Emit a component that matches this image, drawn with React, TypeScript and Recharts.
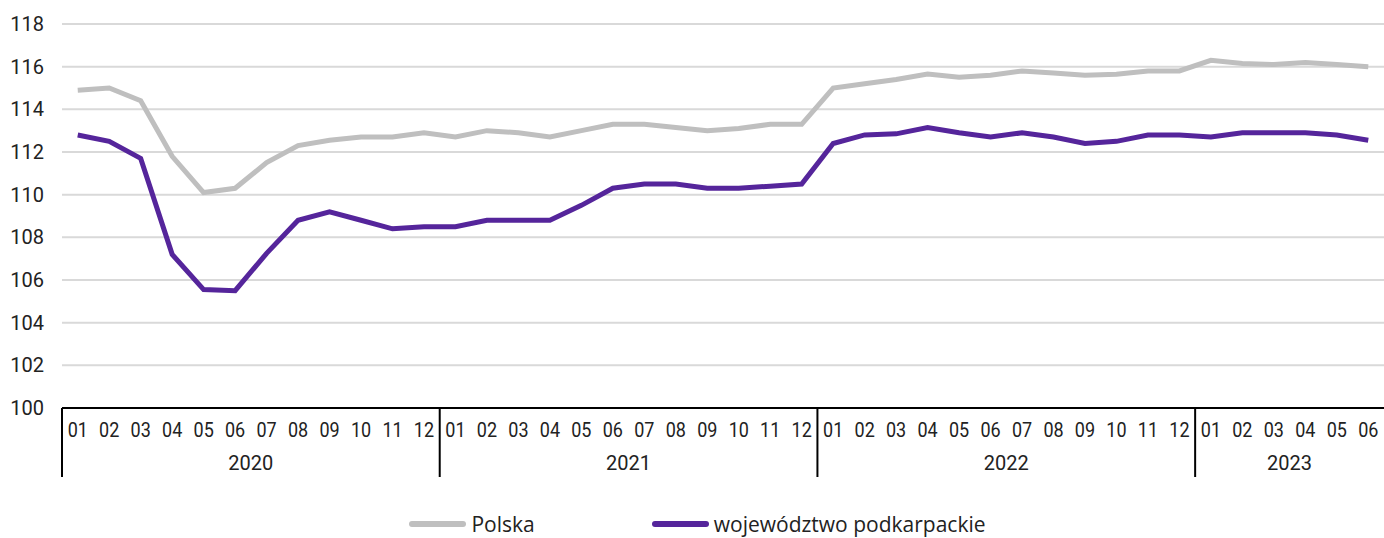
import { LineChart, Line, XAxis, YAxis, CartesianGrid, Legend } from 'recharts';

const years = ['2020', '2021', '2022', '2023'];
const monthsPerYear = [12, 12, 12, 6];
const monthLabels = ['01', '02', '03', '04', '05', '06', '07', '08', '09', '10', '11', '12'];

const polska = [
    114.9, 115.0, 114.4, 111.8, 110.1, 110.3, 111.5, 112.3, 112.55, 112.7, 112.7, 112.9,
    112.7, 113.0, 112.9, 112.7, 113.0, 113.3, 113.3, 113.15, 113.0, 113.1, 113.3, 113.3,
    115.0, 115.2, 115.4, 115.65, 115.5, 115.6, 115.8, 115.7, 115.6, 115.65, 115.8, 115.8,
    116.3, 116.15, 116.1, 116.2, 116.1, 116.0,
];
const podkarpackie = [
    112.8, 112.5, 111.7, 107.2, 105.55, 105.5, 107.25, 108.8, 109.2, 108.8, 108.4, 108.5,
    108.5, 108.8, 108.8, 108.8, 109.5, 110.3, 110.5, 110.5, 110.3, 110.3, 110.4, 110.5,
    112.4, 112.8, 112.85, 113.15, 112.9, 112.7, 112.9, 112.7, 112.4, 112.5, 112.8, 112.8,
    112.7, 112.9, 112.9, 112.9, 112.8, 112.55,
];
const yTicks = [100, 102, 104, 106, 108, 110, 112, 114, 116, 118];

const GRAY = '#bfbfbf';
const PURPLE = '#55259b';
const FONT = 'Roboto, "Open Sans", sans-serif';
const LEGEND_FONT = '"Open Sans", Roboto, sans-serif';

const W = 1384;
const H = 538;
const Y_AXIS_W = 62;

type Row = { key: string; year: string; month: string; mi: number; yi: number; polska: number; podkarpackie: number };

const data: Row[] = [];
years.forEach((year, yi) => {
    for (let mi = 0; mi < monthsPerYear[yi]; mi++) {
        const i = data.length;
        data.push({
            key: `${year}-${monthLabels[mi]}`,
            year,
            month: monthLabels[mi],
            mi,
            yi,
            polska: polska[i],
            podkarpackie: podkarpackie[i],
        });
    }
});

const band = (W - Y_AXIS_W) / data.length;

// month labels in the original are a touch narrower than Roboto
function AxisText({ x, y, sx, children }: { x: number; y: number; sx: number; children: string }) {
    return (
        <text
            transform={`translate(${x},${y}) scale(${sx},1)`}
            textAnchor="middle"
            dominantBaseline="central"
            fontSize={20}
            fill="#222"
            fontFamily={FONT}
        >
            {children}
        </text>
    );
}

function MonthTick(props: any) {
    const { x, y, payload } = props;
    const row = data.find((d) => d.key === payload.value);
    if (!row) return null;
    const midIdx = monthsPerYear[row.yi] / 2 - 1;
    return (
        <g>
            <AxisText x={x} y={y + 22} sx={0.9}>{row.month}</AxisText>
            {row.mi === 0 && (
                <line x1={x - band / 2} x2={x - band / 2} y1={y} y2={y + 69} stroke="#000" strokeWidth={2} />
            )}
            {row.mi === midIdx && <AxisText x={x + band / 2} y={y + 55} sx={1}>{row.year}</AxisText>}
        </g>
    );
}

function LegendContent() {
    const item = (color: string, label: string) => (
        <div style={{ display: 'flex', alignItems: 'center', gap: 5 }}>
            <span style={{ display: 'inline-block', width: 57, height: 6, borderRadius: 3, background: color }} />
            <span>{label}</span>
        </div>
    );
    return (
        <div style={{ display: 'flex', justifyContent: 'center', gap: 117, height: 22, paddingBottom: 3, lineHeight: '22px', fontSize: 21, color: '#222', fontFamily: LEGEND_FONT, paddingLeft: 11 }}>
            {item(GRAY, 'Polska')}
            {item(PURPLE, 'województwo podkarpackie')}
        </div>
    );
}

export default function App() {
    return (
        <div style={{ position: 'absolute', left: 0, top: 0, width: W, height: H, background: '#fff' }}>
            <LineChart width={W} height={H} data={data} margin={{ top: 24, right: 0, bottom: 0, left: 0 }}>
                <CartesianGrid vertical={false} stroke="#d9d9d9" strokeWidth={2} />
                <XAxis
                    dataKey="key"
                    scale="band"
                    interval={0}
                    tickLine={false}
                    tickSize={0}
                    tickMargin={0}
                    height={105}
                    axisLine={{ stroke: '#000', strokeWidth: 2 }}
                    tick={<MonthTick />}
                />
                <YAxis
                    domain={[100, 118]}
                    ticks={yTicks}
                    width={Y_AXIS_W}
                    axisLine={false}
                    tickLine={false}
                    tickSize={0}
                    tickMargin={18}
                    tick={{ fontSize: 20, fill: '#222', fontFamily: FONT }}
                />
                <Legend verticalAlign="bottom" content={<LegendContent />} />
                <Line type="linear" dataKey="polska" name="Polska" stroke={GRAY} strokeWidth={5} dot={false} isAnimationActive={false} />
                <Line type="linear" dataKey="podkarpackie" name="województwo podkarpackie" stroke={PURPLE} strokeWidth={5} dot={false} isAnimationActive={false} />
            </LineChart>
        </div>
    );
}
